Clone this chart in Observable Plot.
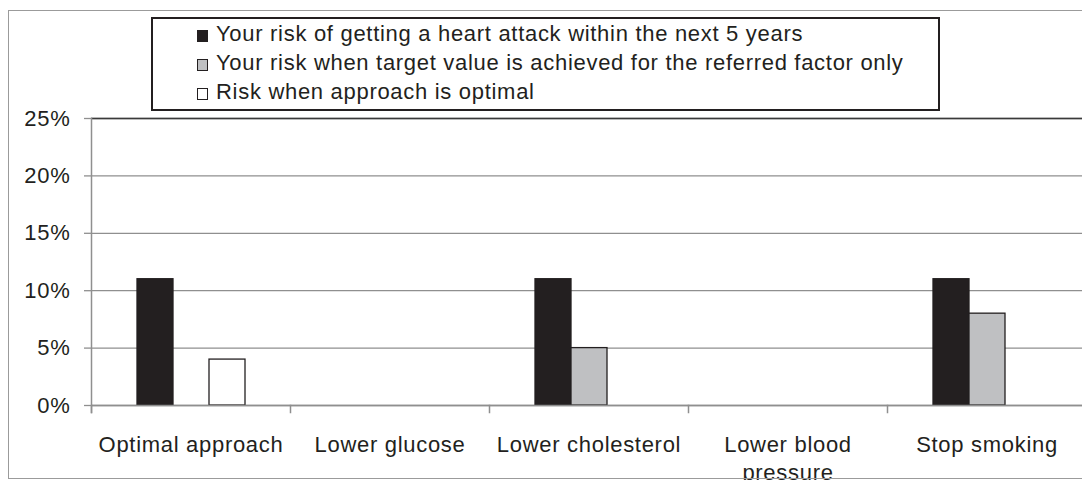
<!DOCTYPE html>
<html>
<head>
<meta charset="utf-8">
<script src="https://cdn.jsdelivr.net/npm/d3@7"></script>
<script src="https://cdn.jsdelivr.net/npm/@observablehq/plot@0.6"></script>
<style>
  body { margin: 0; background: #fff; }
  #wrap { position: relative; width: 1082px; height: 480px; overflow: hidden;
          font-family: "Liberation Sans", Arial, sans-serif; color: #231f20; }
  #wrap svg { position: absolute; left: 0; top: 0; }
  #border { position: absolute; left: 8px; top: 10px; width: 1090px; height: 469px;
            border: 1.5px solid #9b9b9b; box-sizing: border-box; }
  #legend { position: absolute; left: 151px; top: 17px; width: 789px; height: 94px;
            border: 2px solid #231f20; box-sizing: border-box; background: #fff;
            padding-left: 44px; font-size: 22px; line-height: 29px; letter-spacing: 0.7px; }
  .item { white-space: nowrap; }
  .sw { display: inline-block; width: 11px; height: 12px; box-sizing: border-box;
        border: 1.3px solid #231f20; margin-right: 8px; vertical-align: -1px; }
</style>
</head>
<body>
<div id="wrap">
  <div id="border"></div>
</div>
<script>
// ---- data ----
const categories = ["Optimal approach", "Lower glucose", "Lower cholesterol", "Lower blood pressure", "Stop smoking"];
const series = [
  "Your risk of getting a heart attack within the next 5 years",
  "Your risk when target value is achieved for the referred factor only",
  "Risk when approach is optimal"
];
const currentRisk = [0.11, null, 0.11, null, 0.11];
const factorRisk  = [null, null, 0.05, null, 0.08];
const optimalRisk = [0.04, null, null, null, null];
const seriesColors = ["#231f20", "#bfc0c2", "#ffffff"];
const yTicks = [0, 0.05, 0.10, 0.15, 0.20, 0.25];

// ---- table (every category kept, missing values stay null) ----
const valuesBySeries = [currentRisk, factorRisk, optimalRisk];
const rows = [];
categories.forEach((c, i) => {
  series.forEach((s, j) => {
    rows.push({category: c, series: s, value: valuesBySeries[j][i]});
  });
});

const W = 1082, H = 480, mTop = 118, mBottom = 75, mLeft = 91, mRight = -4;
const plotH = H - mTop - mBottom;
const gridColor = "#8f8f8f";

const chart = Plot.plot({
  width: W, height: H,
  marginLeft: mLeft, marginRight: mRight, marginTop: mTop, marginBottom: mBottom,
  style: { fontFamily: "'Liberation Sans', Arial, sans-serif", fontSize: "22px", color: "#231f20",
           background: "transparent", overflow: "visible", letterSpacing: "0.7px" },
  fx: { domain: categories, padding: 0, label: null },
  x: { domain: series, paddingInner: 0, paddingOuter: 1.19, axis: null },
  y: { domain: [0, 0.25], label: null },
  color: { domain: series, range: seriesColors },
  marks: [
    Plot.gridY(yTicks, { stroke: gridColor, strokeOpacity: 1, strokeWidth: 1.3 }),
    Plot.ruleY([yTicks[yTicks.length - 1]], { stroke: "#3a3a3a", strokeWidth: 1.6 }),
    Plot.barY(rows, { fx: "category", x: "series", y: "value", fill: "series",
                      stroke: "#231f20", strokeWidth: 1.3, inset: 0 }),
    Plot.ruleY([0], { stroke: gridColor, strokeWidth: 1.5 }),
    Plot.frame({ anchor: "left", stroke: gridColor, strokeWidth: 1.5, insetTop: plotH, insetBottom: -7 }),
    Plot.frame({ anchor: "left", facetAnchor: "left", stroke: gridColor, strokeWidth: 1.5, insetBottom: -7 }),
    Plot.axisY({ ticks: yTicks, tickFormat: d3.format(".0%"), tickSize: 7, tickPadding: 14,
                 facetAnchor: "left", stroke: gridColor, strokeWidth: 1.3, fill: "#231f20", fontSize: 22, label: null }),
    Plot.axisFx({ anchor: "bottom", tickSize: 0, tickPadding: 27, lineWidth: 9.4, lineHeight: 1.25,
                  fill: "#231f20", fontSize: 22, label: null })
  ]
});

const wrap = document.getElementById("wrap");
wrap.insertBefore(chart, wrap.firstChild);

// ---- legend ----
const legend = document.createElement("div");
legend.id = "legend";
series.forEach((s, j) => {
  const item = document.createElement("div");
  item.className = "item";
  const sw = document.createElement("span");
  sw.className = "sw";
  sw.style.background = seriesColors[j];
  item.appendChild(sw);
  item.appendChild(document.createTextNode(s));
  legend.appendChild(item);
});
wrap.appendChild(legend);
</script>
</body>
</html>
